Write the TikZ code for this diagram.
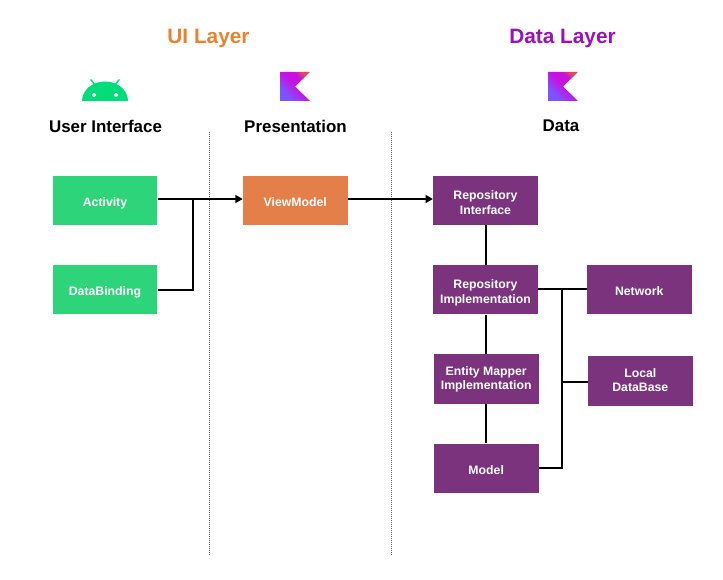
\documentclass[tikz,border=0pt]{standalone}
\usepackage{fontspec}
\setmainfont{Liberation Sans}
\usetikzlibrary{arrows.meta,calc}
\definecolor{grn}{HTML}{2DD479}
\definecolor{org}{HTML}{E47F49}
\definecolor{pur}{HTML}{7B337E}
\definecolor{droid}{HTML}{00DE7A}
\definecolor{uit}{HTML}{E8822E}
\definecolor{dat}{HTML}{9A10BE}
\definecolor{ka}{HTML}{7F52FF}
\definecolor{kb}{HTML}{C711E1}
\definecolor{kc}{HTML}{E44857}
\pgfdeclarehorizontalshading{kotlinshade}{100bp}{color(0bp)=(ka); color(30bp)=(ka); color(52bp)=(kb); color(66bp)=(kb); color(76bp)=(kc); color(100bp)=(kc)}
\tikzset{
  blk/.style={minimum width=78.5pt,minimum height=37pt,inner sep=0pt,text=white,align=center,font=\fontsize{9.2pt}{10.9pt}\selectfont\bfseries,text height=9pt,text depth=0pt},
  greenbox/.style={blk,fill=grn},
  orangebox/.style={blk,fill=org},
  purplebox/.style={blk,fill=pur},
  layertitle/.style={inner sep=0pt,font=\fontsize{15.6pt}{18pt}\selectfont\bfseries},
  heading/.style={inner sep=0pt,text=black,font=\fontsize{12.7pt}{15pt}\selectfont\bfseries},
  conn/.style={draw=black,line width=1.2pt},
  connarrow/.style={conn,-{Triangle[length=5.5pt,width=6pt]}},
  sep/.style={draw=black!65,line width=0.7pt,dash pattern=on 0.75pt off 0.75pt},
  kotlin/.style={shading=kotlinshade,shading angle=45},
}
\begin{document}
\begin{tikzpicture}[x=0.75pt,y=-0.75pt]
\useasboundingbox (0,0) rectangle (723,580);
% separators
\coordinate (s1a) at (209.3,132); \coordinate (s1b) at (209.3,556);
\coordinate (s2a) at (391.5,132); \coordinate (s2b) at (391.5,556);
\draw[sep] (s1a) -- (s1b);
\draw[sep] (s2a) -- (s2b);
% titles
\node[layertitle,text=uit] (uilayer) at (208.5,38.5) {UI Layer};
\node[layertitle,text=dat] (datalayer) at (562.5,39) {Data Layer};
\node[heading] (hui) at (105.5,126) {User Interface};
\node[heading] (hpres) at (295.5,126) {Presentation};
\node[heading] (hdata) at (561,126) {Data};
% android icon
\fill[droid] (82,101) arc[start angle=180,end angle=360,x radius=23,y radius=19.5] -- cycle;
\draw[droid,line width=1.1pt,line cap=round] (95,85) -- (91,79.8);
\draw[droid,line width=1.1pt,line cap=round] (115,85) -- (119,79.8);
\fill[white] (94,95) circle[radius=2];
\fill[white] (116,95) circle[radius=2];
% kotlin icons
\shade[kotlin] (280,72) -- (310,72) -- (295,86.5) -- (310,101) -- (280,101) -- cycle;
\shade[kotlin] (548,72) -- (578,72) -- (563,86.5) -- (578,101) -- (548,101) -- cycle;
% boxes
\node[greenbox] (act) at (105,200.5) {Activity};
\node[greenbox] (db) at (105,289.7) {DataBinding};
\node[orangebox] (vm) at (295.3,200.5) {ViewModel};
\node[purplebox,text height=20.3pt] (ri) at (485.5,200.5) {Repository\\Interface};
\node[purplebox,text height=20.3pt] (rimpl) at (485.5,289.7) {Repository\\Implementation};
\node[purplebox] (net) at (639.2,289.7) {Network};
\node[purplebox,text height=15.8pt] (emi) at (486.2,379) {Entity Mapper\\Implementation};
\node[purplebox,text height=15.8pt] (ldb) at (640.3,381) {Local\\DataBase};
\node[purplebox] (mod) at (486.2,468.3) {Model};
% connectors
\coordinate (j1) at (193,199);
\coordinate (j2) at (562,289);
\coordinate (j3) at (562,382);
\coordinate (j4) at (562,468);
\coordinate (j5) at (486,240);
\coordinate (j6) at (193,290);
\draw[connarrow] (act.east |- j1) -- (vm.west |- j1);
\draw[connarrow] (vm.east |- j1) -- (ri.west |- j1);
\draw[conn] (db.east |- j6) -- (j6) -- (j1);
\draw[conn] (ri.south -| j5) -- (rimpl.north -| j5);
\draw[conn] (rimpl.south -| j5) -- (emi.north -| j5);
\draw[conn] (emi.south -| j5) -- (mod.north -| j5);
\draw[conn] (rimpl.east |- j2) -- (net.west |- j2);
\draw[conn] (j2) -- (j4) -- (mod.east |- j4);
\draw[conn] (j3) -- (ldb.west |- j3);
\end{tikzpicture}
\end{document}
